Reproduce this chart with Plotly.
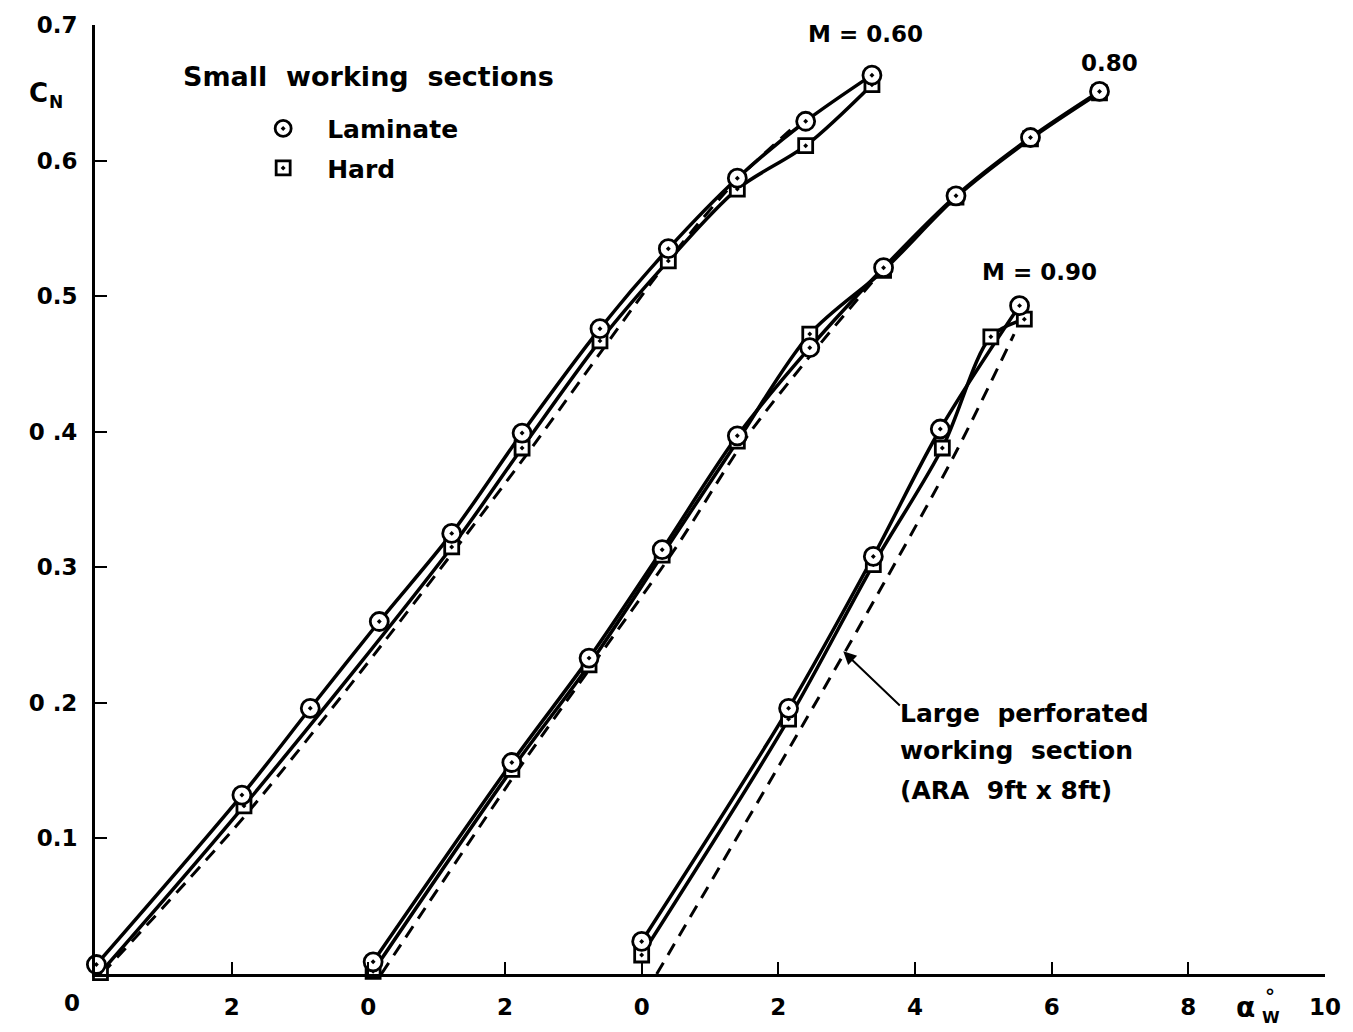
import numpy as np
import plotly.graph_objects as go

# ---------------- data (alpha in each curve's own scale, CN) ----------------
m60_alpha_lam = [0.02, 2.15, 3.15, 4.16, 5.22, 6.25, 7.39, 8.39, 9.40, 10.40, 11.37]
m60_cn_lam = [0.007, 0.132, 0.196, 0.260, 0.325, 0.399, 0.476, 0.535, 0.587, 0.629, 0.663]
m60_alpha_hard = [0.08, 2.18, 5.22, 6.25, 7.39, 8.39, 9.40, 10.40, 11.37]
m60_cn_hard = [0.001, 0.124, 0.315, 0.388, 0.467, 0.526, 0.579, 0.611, 0.656]
m60_alpha_ara = [0.1, 2.2, 4.2, 6.3, 8.4, 9.4, 10.5]
m60_cn_ara = [0.0, 0.117, 0.243, 0.382, 0.527, 0.586, 0.637]

m80_alpha = [0.07, 2.1, 3.23, 4.3, 5.4, 6.46, 7.54, 8.6, 9.69, 10.7]
m80_cn_lam = [0.009, 0.156, 0.233, 0.313, 0.397, 0.462, 0.521, 0.574, 0.617, 0.651]
m80_cn_hard = [0.002, 0.151, 0.228, 0.309, 0.393, 0.472, 0.519, 0.573, 0.616, 0.650]
m80_alpha_ara = [0.19, 2.28, 4.48, 5.55, 6.5, 7.4]
m80_cn_ara = [0.0, 0.157, 0.313, 0.397, 0.458, 0.512]

m90_alpha_lam = [0.0, 2.15, 3.39, 4.37, 5.53]
m90_cn_lam = [0.024, 0.196, 0.308, 0.402, 0.493]
m90_alpha_hard = [0.0, 2.15, 3.39, 4.4, 5.11, 5.6]
m90_cn_hard = [0.014, 0.188, 0.302, 0.388, 0.470, 0.483]
m90_alpha_ara = [0.22, 2.98, 4.6, 5.45]
m90_cn_ara = [0.0, 0.238, 0.385, 0.472]

# horizontal offsets of each curve's origin on the common axis (deg)
offset_m60 = -8
offset_m80 = -4
offset_m90 = 0

x_tickvals = [-8, -6, -4, -2, 0, 2, 4, 6, 8, 10]
x_ticktext = ["", "2", "0", "2", "0", "2", "4", "6", "8", "10"]
y_tickvals = [0.1, 0.2, 0.3, 0.4, 0.5, 0.6, 0.7]
y_ticktext = ["0.1", "0 .2", "0.3", "0 .4", "0.5", "0.6", "0.7"]

FONT = "DejaVu Sans"
BLACK = "#000000"

def sh(a, off):
    return (np.asarray(a) + off).tolist()

fig = go.Figure()

# dashed (large perforated working section)
for a, c, off in [(m60_alpha_ara, m60_cn_ara, offset_m60),
                  (m80_alpha_ara, m80_cn_ara, offset_m80),
                  (m90_alpha_ara, m90_cn_ara, offset_m90)]:
    fig.add_trace(go.Scatter(x=sh(a, off), y=c, mode="lines",
                             line=dict(color=BLACK, width=3, dash="13px,9px", shape="spline", smoothing=0.8),
                             showlegend=False, hoverinfo="skip", cliponaxis=False))

# solid lines
for a, c, off in [(m60_alpha_hard, m60_cn_hard, offset_m60),
                  (m60_alpha_lam, m60_cn_lam, offset_m60),
                  (m80_alpha, m80_cn_hard, offset_m80),
                  (m80_alpha, m80_cn_lam, offset_m80),
                  (m90_alpha_hard, m90_cn_hard, offset_m90),
                  (m90_alpha_lam, m90_cn_lam, offset_m90)]:
    fig.add_trace(go.Scatter(x=sh(a, off), y=c, mode="lines",
                             line=dict(color=BLACK, width=3.5, shape="spline", smoothing=0.9),
                             showlegend=False, hoverinfo="skip", cliponaxis=False))

# markers: hard (squares)
for i, (a, c, off) in enumerate([(m60_alpha_hard, m60_cn_hard, offset_m60),
                                 (m80_alpha, m80_cn_hard, offset_m80),
                                 (m90_alpha_hard, m90_cn_hard, offset_m90)]):
    fig.add_trace(go.Scatter(x=sh(a, off), y=c, mode="markers", name="Hard",
                             legendgroup="hard", showlegend=(i == 0), legendrank=2,
                             marker=dict(symbol="square-dot", size=14, color="white",
                                         line=dict(color=BLACK, width=2.8)),
                             cliponaxis=False))

# markers: laminate (circles)
for i, (a, c, off) in enumerate([(m60_alpha_lam, m60_cn_lam, offset_m60),
                                 (m80_alpha, m80_cn_lam, offset_m80),
                                 (m90_alpha_lam, m90_cn_lam, offset_m90)]):
    fig.add_trace(go.Scatter(x=sh(a, off), y=c, mode="markers", name="Laminate",
                             legendgroup="lam", showlegend=(i == 0), legendrank=1,
                             marker=dict(symbol="circle-dot", size=18, color="white",
                                         line=dict(color=BLACK, width=2.8)),
                             cliponaxis=False))

tf = dict(family=FONT, size=23, color=BLACK, weight="bold")
tf25 = dict(family=FONT, size=25, color=BLACK, weight="bold")
tf26 = dict(family=FONT, size=27, color=BLACK, weight="bold")

def pa(**kw):
    d = dict(xref="paper", yref="paper", showarrow=False, xanchor="center", yanchor="middle")
    d.update(kw)
    return d

annotations = [
    dict(text="M = 0.60", x=3.28, y=0.693, xref="x", yref="y", showarrow=False, font=tf),
    dict(text="0.80", x=6.84, y=0.672, xref="x", yref="y", showarrow=False, font=tf),
    dict(text="M = 0.90", x=5.82, y=0.518, xref="x", yref="y", showarrow=False, font=tf),
    dict(text="Small  working  sections", x=-6.74, y=0.662, xref="x", yref="y",
         xanchor="left", showarrow=False, font=tf26),
    dict(text="Large  perforated", x=3.75, y=0.192, xref="x", yref="y",
         xanchor="left", showarrow=False, font=tf25),
    dict(text="working  section", x=3.75, y=0.165, xref="x", yref="y",
         xanchor="left", showarrow=False, font=tf25),
    dict(text="(ARA  9ft x 8ft)", x=3.75, y=0.135, xref="x", yref="y",
         xanchor="left", showarrow=False, font=tf25),
    dict(text="", x=2.95, y=0.238, ax=3.8, ay=0.197, xref="x", yref="y",
         axref="x", ayref="y", showarrow=True, arrowhead=2, arrowsize=1.3,
         arrowwidth=2, arrowcolor=BLACK),
    # texts outside the plotting area (paper coordinates)
    pa(text="C", x=-0.0461, y=0.9286, font=dict(family=FONT, size=26, color=BLACK, weight="bold")),
    pa(text="N", x=-0.0315, y=0.919, font=dict(family=FONT, size=17, color=BLACK, weight="bold")),
    pa(text="0", x=-0.0186, y=-0.031, font=tf),
    pa(text="α", x=0.9353, y=-0.0357, font=dict(family=FONT, size=28, color=BLACK, weight="bold")),
    pa(text="°", x=0.9555, y=-0.0231, font=dict(family=FONT, size=20, color=BLACK, weight="bold")),
    pa(text="W", x=0.9563, y=-0.0462, font=dict(family=FONT, size=16, color=BLACK, weight="bold")),
]

fig.update_layout(
    width=1353, height=1032,
    margin=dict(l=95, r=21, t=22, b=58),
    paper_bgcolor="white", plot_bgcolor="white",
    font=tf,
    annotations=annotations,
    showlegend=True,
    legend=dict(x=0.1172, y=0.915, xanchor="left", yanchor="top",
                bgcolor="rgba(0,0,0,0)", tracegroupgap=4, itemwidth=78,
                font=tf25),
    xaxis=dict(range=[-8, 10], showgrid=False, zeroline=False, showline=True,
               linecolor=BLACK, linewidth=3, ticks="inside", ticklen=12, tickwidth=2,
               tickcolor=BLACK, tickvals=x_tickvals, ticktext=x_ticktext,
               tickfont=tf, ticklabelstandoff=10),
    yaxis=dict(range=[0, 0.7], showgrid=False, zeroline=False, showline=True,
               linecolor=BLACK, linewidth=3, ticks="inside", ticklen=12, tickwidth=2,
               tickcolor=BLACK, tickvals=y_tickvals, ticktext=y_ticktext,
               tickfont=tf, ticklabelstandoff=10),
)

fig.write_html("out.html")
